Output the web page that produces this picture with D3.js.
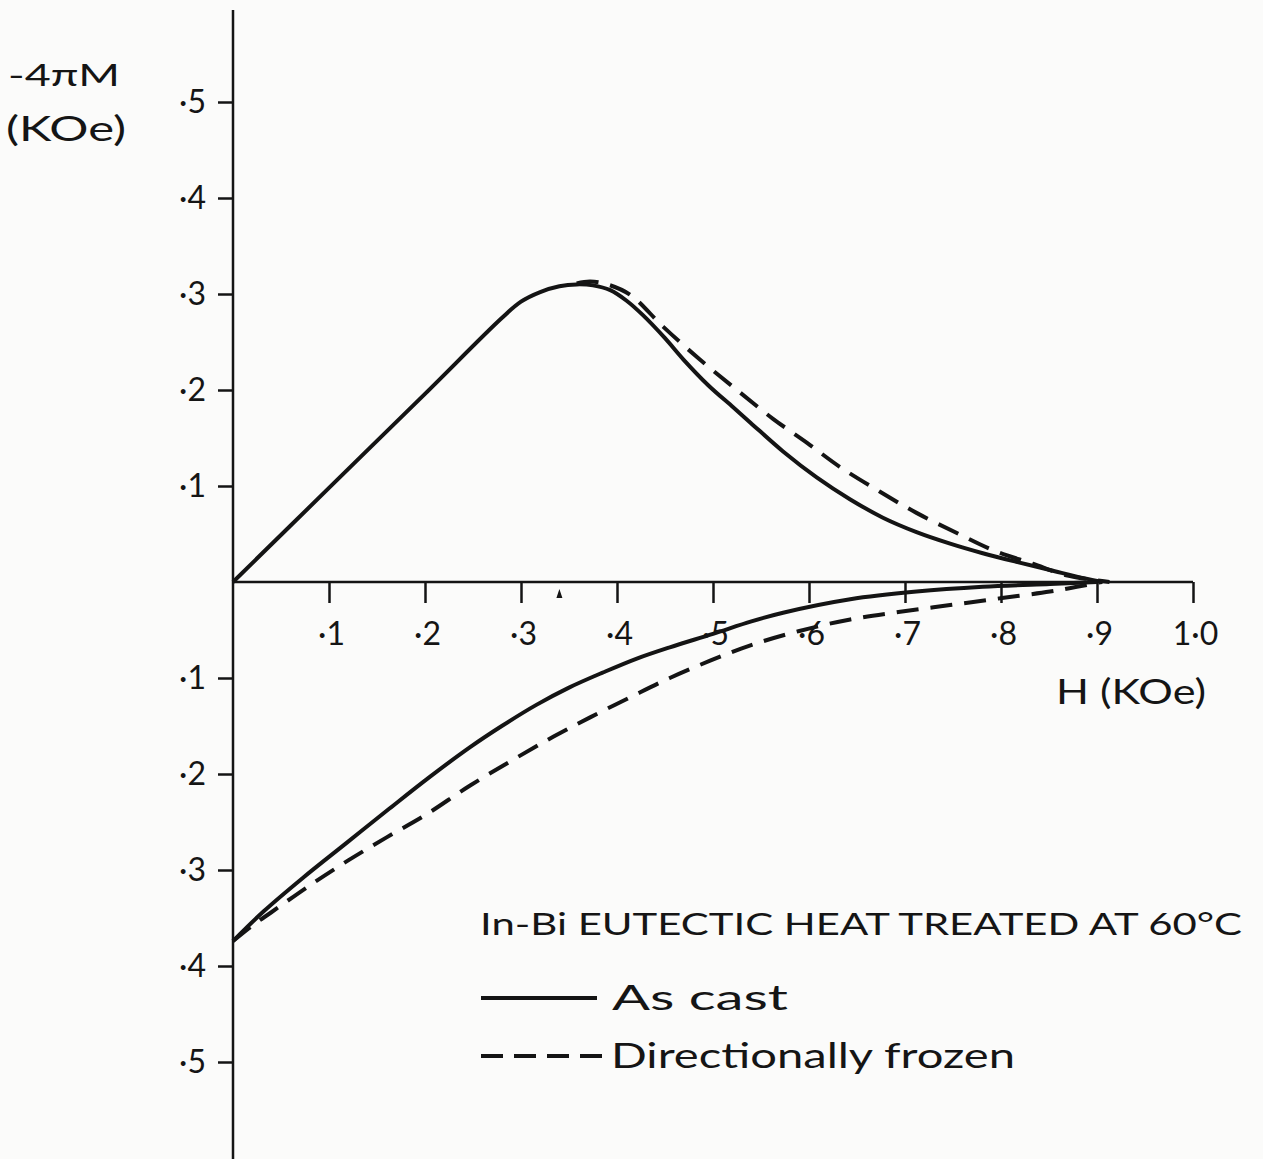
<!DOCTYPE html>
<html>
<head>
<meta charset="utf-8">
<title>In-Bi eutectic magnetisation curves</title>
<script src="https://cdn.jsdelivr.net/npm/d3@7/dist/d3.min.js"></script>
<style>
  html, body { margin: 0; padding: 0; background: #fbfbfa; }
  svg { display: block; }
  text { font-family: Lato, "DejaVu Sans", sans-serif; fill: #151515; }
</style>
</head>
<body>
<svg id="chart" width="1263" height="1159"></svg>
<script>
// Applied field H (kOe) and -4πM (kOe), as-cast specimen: upper (increasing field) branch
const asCastUpper = [
  [0, 0], [0.1, 0.098], [0.2, 0.196], [0.28, 0.275], [0.3, 0.292], [0.32, 0.302],
  [0.34, 0.308], [0.358, 0.310], [0.375, 0.309], [0.393, 0.304], [0.41, 0.293],
  [0.427, 0.278], [0.45, 0.254], [0.469, 0.232], [0.495, 0.205], [0.521, 0.182],
  [0.539, 0.166], [0.573, 0.136], [0.608, 0.109], [0.643, 0.086], [0.677, 0.067],
  [0.712, 0.052], [0.747, 0.040], [0.781, 0.030], [0.816, 0.021], [0.851, 0.0125],
  [0.886, 0.004], [0.906, 0]
];
// As-cast specimen: lower (decreasing field) branch
const asCastLower = [
  [0, -0.374], [0.032, -0.343], [0.073, -0.308], [0.118, -0.272], [0.163, -0.236],
  [0.205, -0.203], [0.247, -0.172], [0.28, -0.150], [0.316, -0.128], [0.35, -0.110],
  [0.386, -0.094], [0.42, -0.080], [0.455, -0.068], [0.5, -0.054], [0.54, -0.041],
  [0.573, -0.032], [0.643, -0.018], [0.712, -0.010], [0.781, -0.005], [0.851, -0.002],
  [0.9, 0]
];
// Directionally frozen specimen: upper branch (follows the as-cast curve up to the peak)
const frozenUpper = [
  [0.358, 0.311], [0.372, 0.313], [0.39, 0.310], [0.414, 0.299], [0.448, 0.266],
  [0.486, 0.232], [0.525, 0.200], [0.5625, 0.170], [0.598, 0.145], [0.632, 0.120],
  [0.674, 0.094], [0.712, 0.072], [0.754, 0.051], [0.792, 0.033], [0.833, 0.019],
  [0.868, 0.007], [0.913, 0]
];
// Directionally frozen specimen: lower branch
const frozenLower = [
  [0, -0.374], [0.02, -0.358], [0.04, -0.344], [0.08, -0.316], [0.12, -0.290],
  [0.16, -0.266], [0.2, -0.243], [0.247, -0.212], [0.292, -0.185], [0.334, -0.161],
  [0.372, -0.141], [0.414, -0.120], [0.455, -0.100], [0.497, -0.082], [0.539, -0.066],
  [0.59, -0.051], [0.643, -0.039], [0.695, -0.031], [0.747, -0.024], [0.799, -0.017],
  [0.851, -0.010], [0.879, -0.005], [0.905, 0]
];

const xTicks = [0.1, 0.2, 0.3, 0.4, 0.5, 0.6, 0.7, 0.8, 0.9, 1.0];
const xTickLabels = ["·1", "·2", "·3", "·4", "·5", "·6", "·7", "·8", "·9", "1·0"];
const yTicks = [0.5, 0.4, 0.3, 0.2, 0.1, -0.1, -0.2, -0.3, -0.4, -0.5];
const yTickLabels = ["·5", "·4", "·3", "·2", "·1", "·1", "·2", "·3", "·4", "·5"];
const criticalFieldMark = 0.34;

const legendTitle = "In-Bi EUTECTIC HEAT TREATED AT 60°C";
const seriesNames = ["As cast", "Directionally frozen"];

const svg = d3.select("#chart");
const ink = "#141414";
const fontStack = "Lato, 'DejaVu Sans', sans-serif";

const x = d3.scaleLinear().domain([0, 1]).range([233, 1193]);
const y = d3.scaleLinear().domain([-0.5, 0.5]).range([1062, 102]);

// Field axis (ticks hang below the line)
const xAxis = d3.axisBottom(x)
  .tickValues(xTicks)
  .tickSize(21)
  .tickPadding(19)
  .tickFormat((d, i) => xTickLabels[i]);
const gx = svg.append("g").attr("transform", `translate(0,${y(0)})`).call(xAxis);
gx.select(".domain").attr("stroke", ink).attr("stroke-width", 2.5)
  .attr("d", `M${x(0)},0H${x(1)}`);
gx.selectAll(".tick line").attr("stroke", ink).attr("stroke-width", 2.5);
gx.selectAll(".tick text").attr("font-size", 32).attr("fill", ink)
  .attr("font-family", fontStack).attr("dx", 2);

// Magnetisation axis (ticks point left, line runs the full height)
const yAxis = d3.axisLeft(y)
  .tickValues(yTicks)
  .tickSize(15)
  .tickPadding(12)
  .tickFormat((d, i) => yTickLabels[i]);
const gy = svg.append("g").attr("transform", `translate(${x(0)},0)`).call(yAxis);
gy.select(".domain").attr("stroke", ink).attr("stroke-width", 2.5)
  .attr("d", "M0,10V1159");
gy.selectAll(".tick line").attr("stroke", ink).attr("stroke-width", 2.5);
gy.selectAll(".tick text").attr("font-size", 32).attr("fill", ink)
  .attr("font-family", fontStack);

// Small marker under the field axis
const mx = x(criticalFieldMark);
svg.append("path")
  .attr("d", `M${mx - 3},${y(0) + 16}L${mx},${y(0) + 7}L${mx + 3},${y(0) + 16}Z`)
  .attr("fill", ink);

// Curves
const line = d3.line()
  .x(d => x(d[0]))
  .y(d => y(d[1]))
  .curve(d3.curveCatmullRom.alpha(0.5));

const curves = [
  { data: asCastUpper, dash: null },
  { data: asCastLower, dash: null },
  { data: frozenUpper, dash: "22,12" },
  { data: frozenLower, dash: "22,12" }
];
svg.append("g").selectAll("path")
  .data(curves)
  .join("path")
  .attr("d", d => line(d.data))
  .attr("fill", "none")
  .attr("stroke", ink)
  .attr("stroke-width", 4)
  .attr("stroke-linecap", "butt")
  .attr("stroke-linejoin", "round")
  .attr("stroke-dasharray", d => d.dash);

// Axis titles
svg.append("text").attr("x", 8).attr("y", 86).attr("font-size", 30)
  .attr("textLength", 112).attr("lengthAdjust", "spacingAndGlyphs").text("-4πM");
svg.append("text").attr("x", 6).attr("y", 141).attr("font-size", 34)
  .attr("textLength", 120).attr("lengthAdjust", "spacingAndGlyphs").text("(KOe)");
svg.append("text").attr("x", 1056).attr("y", 704).attr("font-size", 34)
  .attr("textLength", 150).attr("lengthAdjust", "spacingAndGlyphs").text("H (KOe)");

// Legend
const legend = svg.append("g");
legend.append("text").attr("x", 480).attr("y", 935).attr("font-size", 30)
  .attr("textLength", 762).attr("lengthAdjust", "spacingAndGlyphs").text(legendTitle);

legend.append("line").attr("x1", 481).attr("x2", 597).attr("y1", 998).attr("y2", 998)
  .attr("stroke", ink).attr("stroke-width", 4);
legend.append("text").attr("x", 612).attr("y", 1010).attr("font-size", 34)
  .attr("textLength", 176).attr("lengthAdjust", "spacingAndGlyphs").text(seriesNames[0]);

legend.append("line").attr("x1", 481).attr("x2", 603).attr("y1", 1056).attr("y2", 1056)
  .attr("stroke", ink).attr("stroke-width", 4).attr("stroke-dasharray", "22,11");
legend.append("text").attr("x", 611).attr("y", 1068).attr("font-size", 34)
  .attr("textLength", 404).attr("lengthAdjust", "spacingAndGlyphs").text(seriesNames[1]);
</script>
</body>
</html>
